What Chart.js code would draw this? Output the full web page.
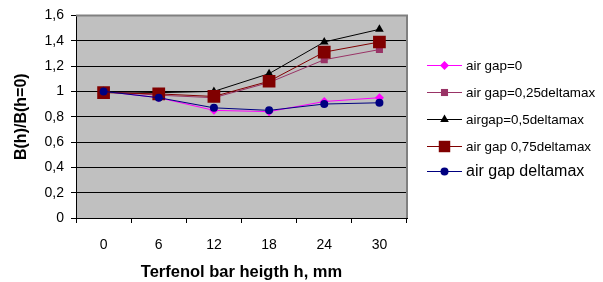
<!DOCTYPE html>
<html>
<head>
<meta charset="utf-8">
<script src="https://cdn.jsdelivr.net/npm/chart.js@4"></script>
<style>
html,body{margin:0;padding:0;background:#fff;}
#wrap{width:603px;height:282px;position:relative;}
</style>
</head>
<body>
<div id="wrap"><canvas id="c" width="603" height="282"></canvas></div>
<script>
const categories = ['0', '6', '12', '18', '24', '30'];
const yTicks = [0, 0.2, 0.4, 0.6, 0.8, 1, 1.2, 1.4, 1.6];
const airGap0 = [1.0, 0.95, 0.85, 0.84, 0.92, 0.95];
const airGap025 = [1.0, 0.97, 0.95, 1.07, 1.25, 1.33];
const airGap05 = [1.0, 0.99, 1.0, 1.14, 1.39, 1.49];
const airGap075 = [0.99, 0.98, 0.96, 1.08, 1.31, 1.39];
const airGapMax = [1.0, 0.95, 0.87, 0.85, 0.90, 0.91];
const seriesNames = ['air gap=0', 'air gap=0,25deltamax', 'airgap=0,5deltamax', 'air gap 0,75deltamax', 'air gap deltamax'];

const FONT = "'Liberation Sans', Arial, sans-serif";
const styles = [
  {color:'#ff00ff', point:'rectRot', r:4.5},
  {color:'#993366', point:'rect', r:5},
  {color:'#000000', point:'triangle', r:5},
  {color:'#800000', point:'rect', r:9},
  {color:'#000080', point:'circle', r:4}
];
const seriesData = [airGap0, airGap025, airGap05, airGap075, airGapMax];

const datasets = seriesData.map((d, i) => ({
  label: seriesNames[i],
  data: d,
  borderColor: styles[i].color,
  backgroundColor: styles[i].color,
  borderWidth: 1,
  pointStyle: styles[i].point,
  pointRadius: styles[i].r,
  pointBorderWidth: 0,
  pointBackgroundColor: styles[i].color,
  pointBorderColor: styles[i].color,
  tension: 0,
  order: 5 - i
}));

const plotBg = {
  id: 'plotBg',
  beforeDraw(chart) {
    const {ctx, chartArea: a} = chart;
    ctx.save();
    ctx.fillStyle = '#c0c0c0';
    ctx.fillRect(a.left, a.top, a.right - a.left, a.bottom - a.top);
    ctx.restore();
  },
  afterDraw(chart) {
    const {ctx, chartArea: a} = chart;
    ctx.save();
    ctx.strokeStyle = '#808080';
    ctx.lineWidth = 2;
    ctx.beginPath();
    ctx.moveTo(a.left, a.top);
    ctx.lineTo(a.right, a.top);
    ctx.lineTo(a.right, a.bottom);
    ctx.stroke();
    // legend
    const ys = [65, 92, 119, 146, 171];
    ctx.textBaseline = 'middle';
    ctx.textAlign = 'left';
    for (let i = 0; i < seriesNames.length; i++) {
      const y = ys[i];
      ctx.strokeStyle = styles[i].color;
      ctx.lineWidth = 1;
      ctx.beginPath();
      ctx.moveTo(427, y + 0.5);
      ctx.lineTo(462, y + 0.5);
      ctx.stroke();
      ctx.fillStyle = styles[i].color;
      Chart.helpers.drawPoint(ctx, {pointStyle: styles[i].point, radius: styles[i].r * (i === 3 ? 0.9 : 1), borderWidth: 0, rotation: 0}, 444.5, y + 0.5);
      ctx.fillStyle = '#000';
      ctx.font = (i === 4 ? '16px ' : '13.4px ') + FONT;
      ctx.fillText(seriesNames[i], 466, y + 1);
    }
    ctx.restore();
  }
};

new Chart(document.getElementById('c'), {
  type: 'line',
  data: { labels: categories, datasets },
  plugins: [plotBg],
  options: {
    responsive: false,
    animation: false,
    devicePixelRatio: 1,
    layout: { padding: { left: 0, top: 15, right: 196, bottom: 0 } },
    plugins: { legend: { display: false }, tooltip: { enabled: false } },
    scales: {
      x: {
        offset: true,
        grid: { offset: true, drawOnChartArea: false, drawTicks: true, tickLength: 5, color: '#000', lineWidth: 1 },
        border: { color: '#000', width: 1 },
        ticks: { color: '#000', font: { family: FONT, size: 14 }, padding: 14, maxRotation: 0 },
        title: { display: true, text: 'Terfenol bar heigth h, mm', color: '#000', font: { family: FONT, size: 16.5, weight: 'bold' }, padding: { top: 0, bottom: 0 } },
        afterFit(s) { s.height = 64; }
      },
      y: {
        min: 0, max: 1.6,
        afterBuildTicks(s) { s.ticks = yTicks.map(v => ({ value: v })); },
        grid: { color: '#000', lineWidth: 1, drawTicks: true, tickLength: 5 },
        border: { color: '#000', width: 1 },
        ticks: { color: '#000', font: { family: FONT, size: 14 }, padding: 7,
          callback: v => String(Math.round(v * 10) / 10).replace('.', ',') },
        title: { display: true, text: 'B(h)/B(h=0)', color: '#000', font: { family: FONT, size: 16, weight: 'bold' }, padding: { top: 12.4, bottom: 0 } },
        afterFit(s) { s.width = 76; }
      }
    }
  }
});
</script>
</body>
</html>
